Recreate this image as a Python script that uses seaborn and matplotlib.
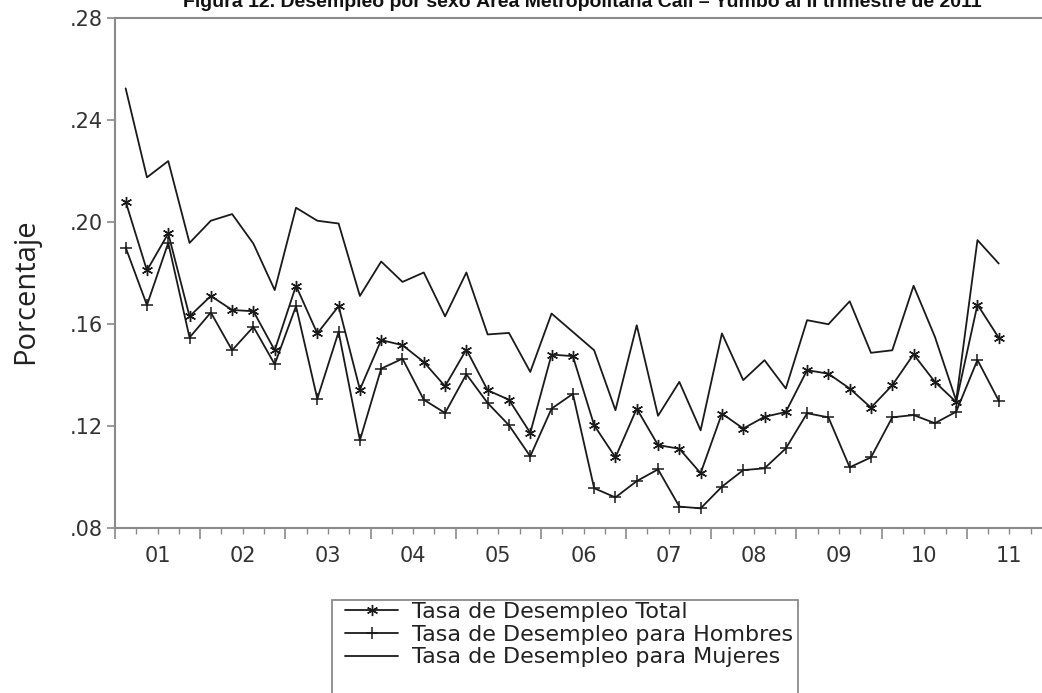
import numpy as np
import pandas as pd
import matplotlib
matplotlib.use("Agg")
import matplotlib.pyplot as plt
import seaborn as sns
from matplotlib.ticker import FixedLocator, FixedFormatter
from matplotlib.patches import Rectangle

# quarterly series, 2001Q1 - 2011Q2
quarters = pd.period_range("2001Q1", "2011Q2", freq="Q")
total = [0.208, 0.181, 0.1955, 0.163, 0.171, 0.1655, 0.165, 0.1497, 0.175, 0.1563,
         0.167, 0.1343, 0.1537, 0.1517, 0.1451, 0.1356, 0.150, 0.134, 0.1303, 0.1173,
         0.148, 0.1474, 0.1203, 0.1077, 0.1268, 0.1125, 0.1111, 0.1015, 0.1249, 0.119,
         0.1236, 0.1255, 0.1419, 0.1405, 0.1347, 0.1272, 0.136, 0.1481, 0.1373, 0.1294,
         0.1676, 0.1546]
hombres = [0.190, 0.1674, 0.1918, 0.1547, 0.1645, 0.1497, 0.1589, 0.1442, 0.167, 0.1307,
           0.1569, 0.1144, 0.1425, 0.1464, 0.1303, 0.1251, 0.1403, 0.129, 0.1203, 0.1081,
           0.1268, 0.1326, 0.0956, 0.092, 0.0984, 0.103, 0.0884, 0.0877, 0.0962, 0.1027,
           0.1034, 0.1112, 0.125, 0.1234, 0.1038, 0.1077, 0.1234, 0.1243, 0.1211, 0.1256,
           0.1459, 0.1299]
mujeres = [0.2524, 0.2175, 0.2239, 0.1918, 0.2005, 0.2031, 0.1915, 0.1733, 0.2056, 0.2005,
           0.1994, 0.171, 0.1845, 0.1765, 0.1802, 0.163, 0.1802, 0.1559, 0.1565, 0.1412,
           0.1641, 0.1569, 0.1497, 0.1262, 0.1595, 0.1240, 0.1373, 0.1183, 0.1563, 0.138,
           0.1458, 0.1347, 0.1615, 0.1599, 0.1689, 0.1487, 0.1497, 0.175, 0.155, 0.130,
           0.1929, 0.1837]
year_labels = ["01", "02", "03", "04", "05", "06", "07", "08", "09", "10", "11"]
y_ticks = [0.08, 0.12, 0.16, 0.20, 0.24, 0.28]
y_labels = [".08", ".12", ".16", ".20", ".24", ".28"]

sns.set_theme(style="white")
plt.rcParams["font.family"] = ["DejaVu Sans"]

GRAY = "#8a8a8a"
LINE = "#1a1a1a"

t = np.array([q.year + (q.quarter - 0.5) / 4 for q in quarters])
df = pd.DataFrame({"t": t, "total": total, "hombres": hombres, "mujeres": mujeres})

fig = plt.figure(figsize=(10.42, 6.93), dpi=100)
W, H = 1042, 693
ax = fig.add_axes([115 / W, 1 - 528 / H, 937 / W, 510 / H])

sns.lineplot(data=df, x="t", y="total", ax=ax, color=LINE, lw=1.3,
             marker=(6, 2, 0), markersize=8, markeredgewidth=1.0, markeredgecolor=LINE,
             label="Tasa de Desempleo Total")
sns.lineplot(data=df, x="t", y="hombres", ax=ax, color=LINE, lw=1.3,
             marker="+", markersize=8, markeredgewidth=1.1, markeredgecolor=LINE,
             label="Tasa de Desempleo para Hombres")
sns.lineplot(data=df, x="t", y="mujeres", ax=ax, color=LINE, lw=1.3,
             label="Tasa de Desempleo para Mujeres")

ax.set_xlim(2001, 2012)
ax.set_ylim(0.08, 0.28)

# x axis: long ticks at year boundaries, short at quarters, year label mid-year
years = np.arange(2001, 2013)
ax.xaxis.set_major_locator(FixedLocator(years))
ax.xaxis.set_major_formatter(FixedFormatter([""] * len(years)))
qpos = [y + q / 4 for y in range(2001, 2012) for q in (1, 2, 3)]
qlab = [year_labels[y - 2001] if q == 2 else "" for y in range(2001, 2012) for q in (1, 2, 3)]
ax.xaxis.set_minor_locator(FixedLocator(qpos))
ax.xaxis.set_minor_formatter(FixedFormatter(qlab))
ax.tick_params(axis="x", which="major", length=8, width=1.2, color=GRAY, direction="out", bottom=True)
ax.tick_params(axis="x", which="minor", length=4, width=1.0, color=GRAY, direction="out",
               bottom=True, pad=9, labelsize=15, labelcolor="#333333")

ax.set_yticks(y_ticks)
ax.set_yticklabels(y_labels)
ax.tick_params(axis="y", length=6, width=1.2, color=GRAY, direction="out", left=True,
               pad=3, labelsize=15, labelcolor="#333333")

for s in ax.spines.values():
    s.set_color(GRAY)
    s.set_linewidth(1.5)

ax.set_xlabel("")
ax.set_ylabel("Porcentaje", fontsize=21, family=["Open Sans", "DejaVu Sans"], color="#222222")
ax.yaxis.set_label_coords(-0.080, 0.465)

# legend below the plot, box runs off the bottom edge
ax.get_legend().remove()
handles, labels = ax.get_legend_handles_labels()
leg = fig.legend(handles, labels, loc="upper left", bbox_to_anchor=(345 / W, 1 - 602 / H),
                 frameon=False, fontsize=16, handlelength=2.4, handletextpad=0.6,
                 labelspacing=0.12, borderaxespad=0, borderpad=0)
for txt in leg.get_texts():
    txt.set_color("#222222")
fig.patches.append(Rectangle((332 / W, -0.05), (798 - 332) / W, 0.05 + 1 - 600 / H,
                             transform=fig.transFigure, fill=False,
                             edgecolor=GRAY, linewidth=1.3))

fig.text(183 / W, 1 - 7 / H,
         "Figura 12. Desempleo por sexo Área Metropolitana Cali – Yumbo al II trimestre de 2011",
         fontsize=14, fontweight="bold", family=["Liberation Sans", "DejaVu Sans"],
         ha="left", va="baseline", color="#111111")

fig.savefig("out.png", dpi=100)
